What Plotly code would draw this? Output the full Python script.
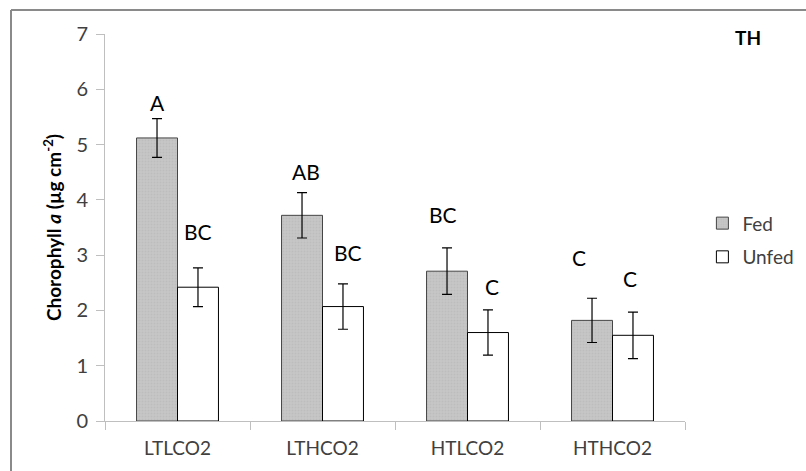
import plotly.graph_objects as go

# Treatment groups and chlorophyll a means (µg cm-2) with standard errors
treatments = ["LTLCO2", "LTHCO2", "HTLCO2", "HTHCO2"]
fed_mean = [5.12, 3.72, 2.71, 1.82]
fed_err = [0.35, 0.41, 0.42, 0.40]
unfed_mean = [2.42, 2.07, 1.60, 1.55]
unfed_err = [0.35, 0.41, 0.41, 0.42]

# Significance letters (Tukey groups) for each bar
fed_letters = ["A", "AB", "BC", "C"]
unfed_letters = ["BC", "BC", "C", "C"]

# Letter placement: vertical centre (data units) and horizontal nudge (px)
fed_letter_y = [5.76, 4.51, 3.74, 2.95]
fed_letter_dx = [0, 4, -4, -13]
unfed_letter_y = [3.43, 3.05, 2.44, 2.57]
unfed_letter_dx = [0, 5, 4, -3]

FONT = "Lato"
TXT = "#404040"

fig = go.Figure()
fig.add_trace(go.Bar(
    name="Fed", x=treatments, y=fed_mean,
    marker=dict(color="#c3c3c3", line=dict(color="#454545", width=1),
                pattern=dict(shape=".", fgcolor="#b4b4b4", bgcolor="#c6c6c6", size=3, solidity=0.3)),
    error_y=dict(type="data", array=fed_err, color="#000000", thickness=1.2, width=5),
    legendgroup="fed",
))
fig.add_trace(go.Bar(
    name="Unfed", x=treatments, y=unfed_mean,
    marker=dict(color="#ffffff", line=dict(color="#000000", width=1)),
    error_y=dict(type="data", array=unfed_err, color="#000000", thickness=1.2, width=5),
    legendgroup="unfed",
))

# Per-bar significance letters; bars sit half a bar width either side of centre
half = 20.5
for i, t in enumerate(treatments):
    fig.add_annotation(x=t, y=fed_letter_y[i], text=fed_letters[i], showarrow=False,
                       xshift=-half + fed_letter_dx[i], yanchor="middle",
                       font=dict(family=FONT, size=21, color="#000000"))
    fig.add_annotation(x=t, y=unfed_letter_y[i], text=unfed_letters[i], showarrow=False,
                       xshift=half + unfed_letter_dx[i], yanchor="middle",
                       font=dict(family=FONT, size=21, color="#000000"))

# Panel label
fig.add_annotation(xref="paper", yref="paper", x=(748 - 105) / 580, y=(421 - 37) / 387,
                   text="<b>TH</b>", showarrow=False, xanchor="center", yanchor="middle",
                   font=dict(family=FONT, size=19, color="#000000"))

# Partial chart frame (top and left edges)
fx0 = (11 - 105) / 580
fy1 = (421 - 10) / 387
fig.add_shape(type="line", xref="paper", yref="paper", x0=fx0, x1=1.3, y0=fy1, y1=fy1,
              line=dict(color="#8a8a8a", width=2))
fig.add_shape(type="line", xref="paper", yref="paper", x0=fx0, x1=fx0, y0=fy1, y1=-0.2,
              line=dict(color="#8a8a8a", width=2))

fig.update_layout(
    width=806, height=471,
    margin=dict(l=105, r=121, t=34, b=50, autoexpand=False),
    paper_bgcolor="#ffffff", plot_bgcolor="#ffffff",
    barmode="group", bargap=0.435, bargroupgap=0,
    font=dict(family=FONT, color=TXT),
    showlegend=True,
    legend=dict(x=1.03, xanchor="left", y=0.56, yanchor="top",
                font=dict(family=FONT, size=19, color=TXT),
                tracegroupgap=6, itemwidth=30, bgcolor="rgba(0,0,0,0)"),
    xaxis=dict(
        type="category", tickson="boundaries", ticks="outside", ticklen=8,
        tickcolor="#bfbfbf", showline=True, linecolor="#bfbfbf", linewidth=1,
        showgrid=False, tickfont=dict(family=FONT, size=19, color=TXT),
        ticklabelstandoff=10, range=[-0.5, 3.5],
    ),
    yaxis=dict(
        range=[0, 7], dtick=1, ticks="outside", ticklen=8, tickcolor="#bfbfbf",
        showline=True, linecolor="#bfbfbf", linewidth=1, showgrid=False, zeroline=False,
        tickfont=dict(family=FONT, size=20, color=TXT), ticklabelstandoff=4,
        title=dict(text="<b>Chorophyll <i>a</i> (µg cm<sup>-2</sup>)</b>",
                   font=dict(family=FONT, size=19, color="#000000"), standoff=9),
    ),
)

fig.write_html("out.html")
